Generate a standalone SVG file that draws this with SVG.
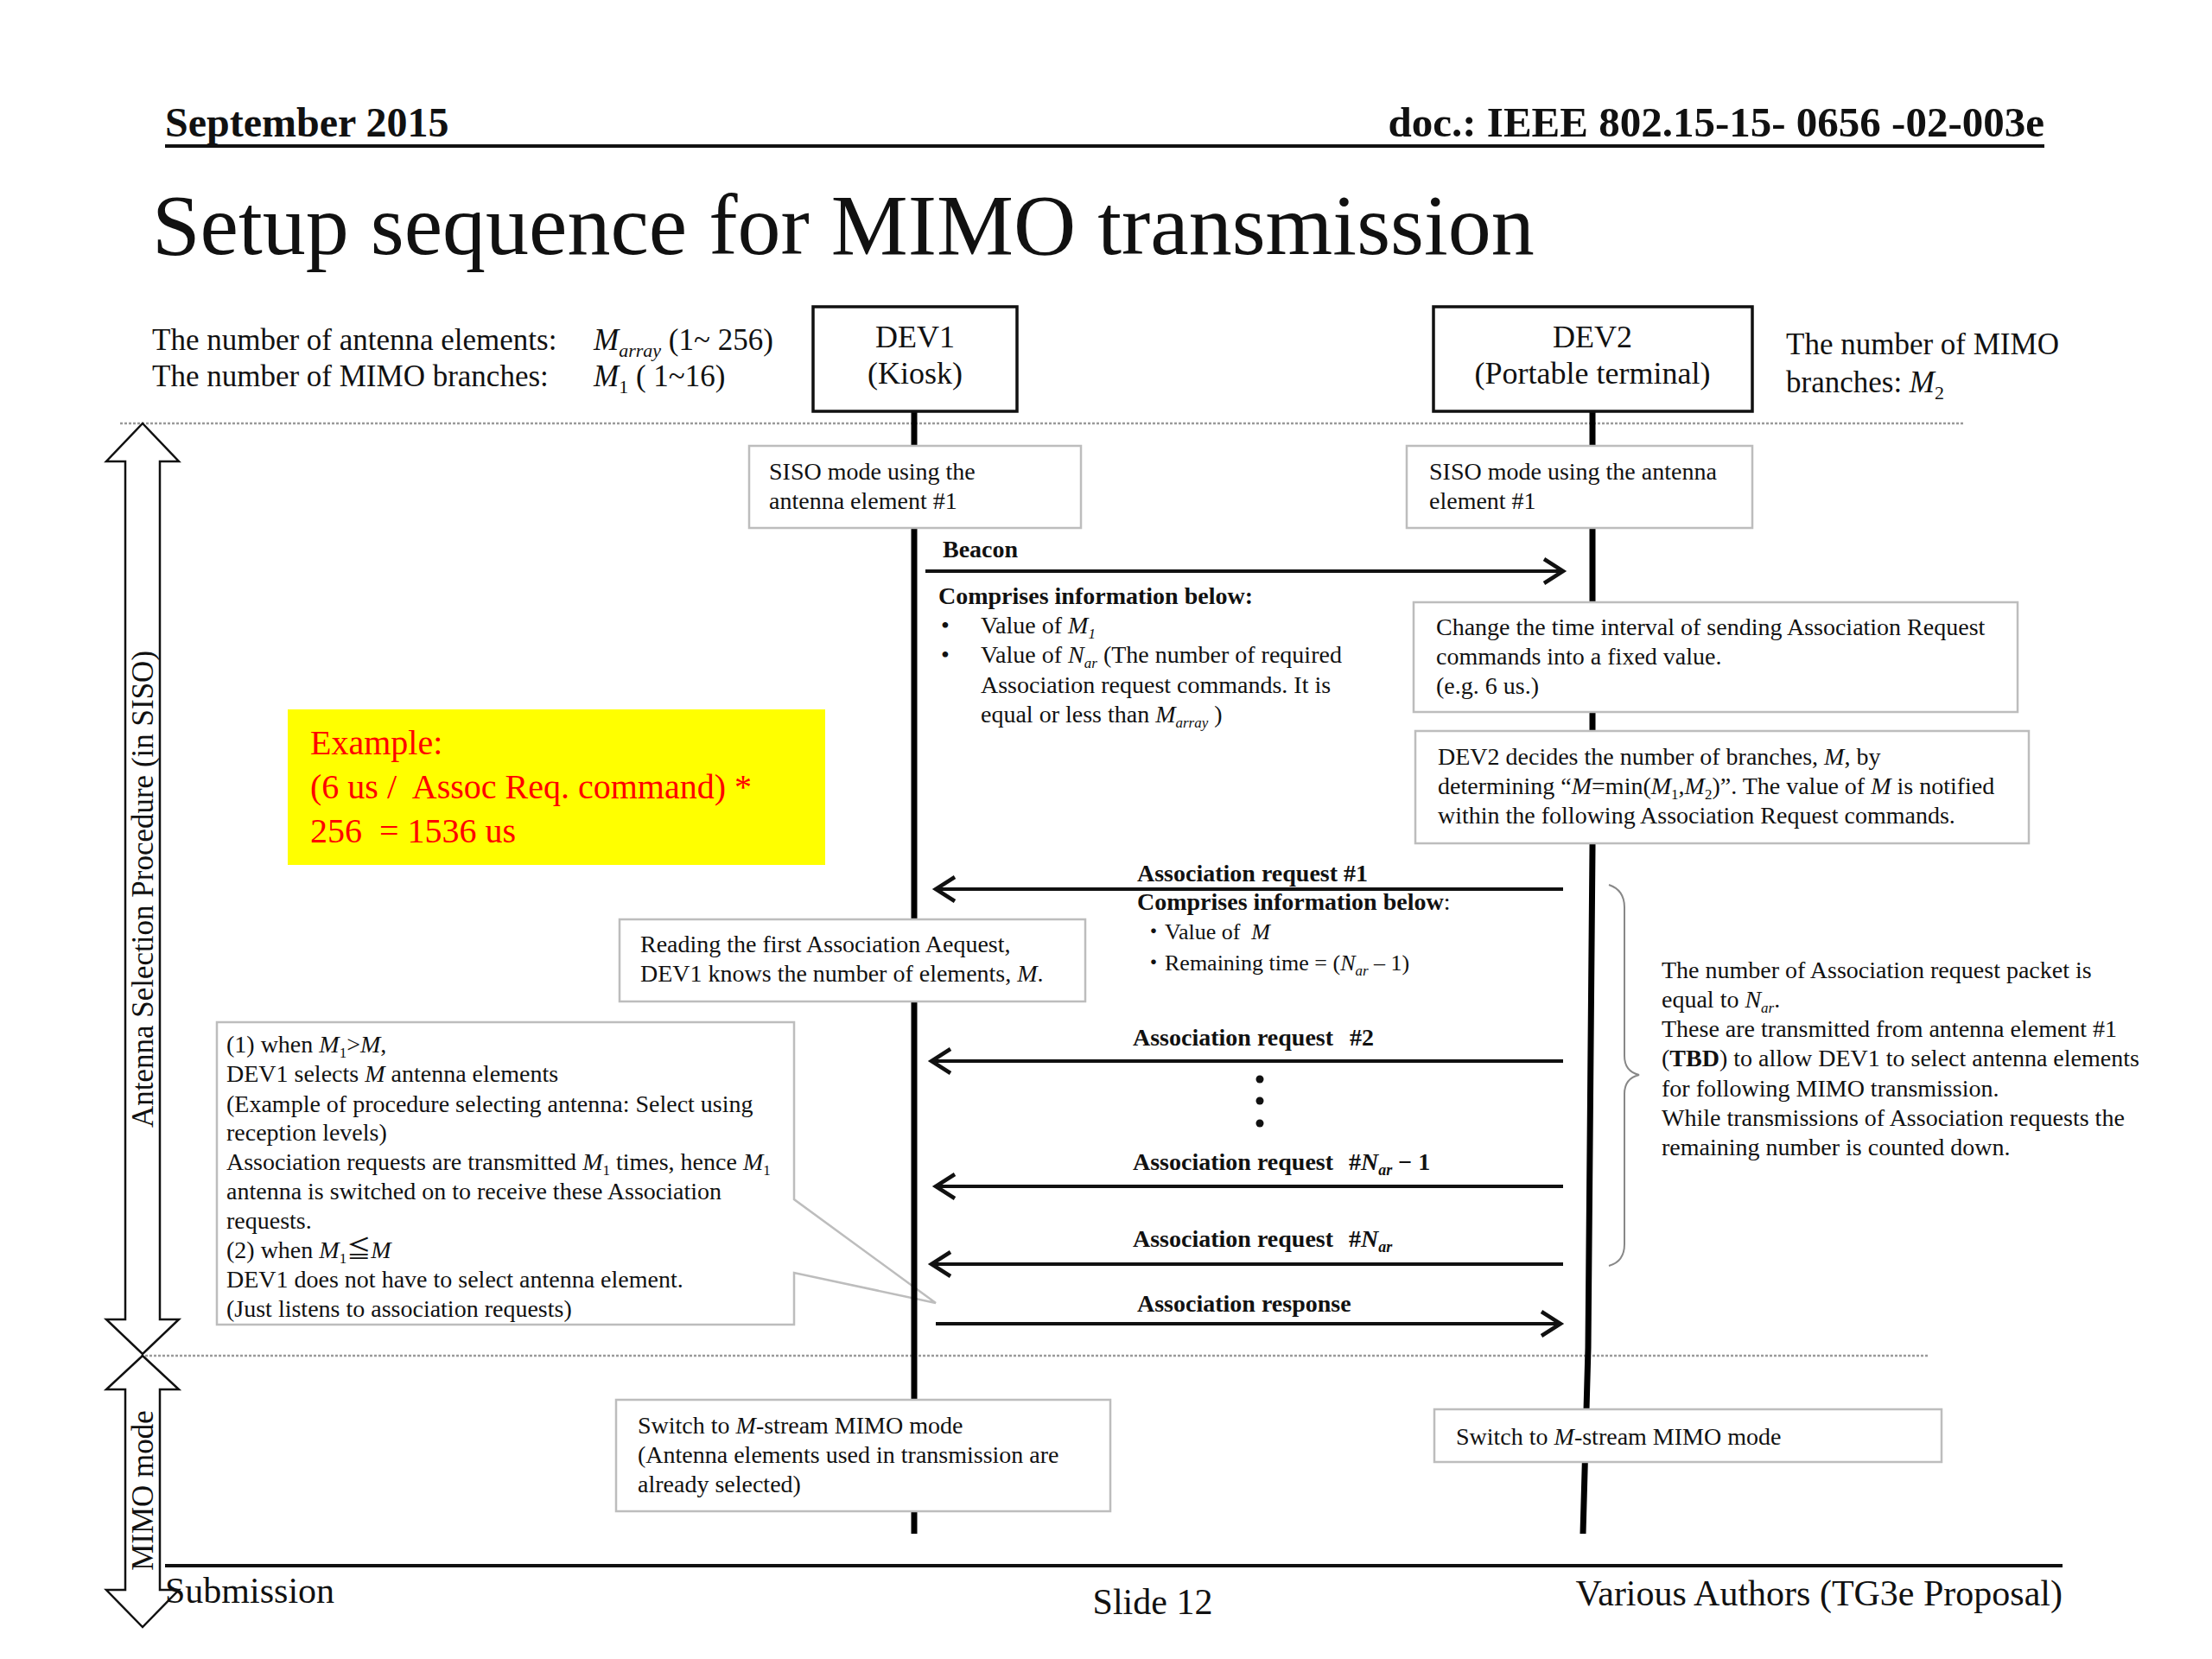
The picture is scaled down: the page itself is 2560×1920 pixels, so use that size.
<svg xmlns="http://www.w3.org/2000/svg" width="2560" height="1920" viewBox="0 0 2560 1920">
<style>
text{font-family:'Liberation Serif','Times New Roman','Noto Sans CJK JP',serif;fill:#111}
.b{font-weight:bold}
.i{font-style:italic}
.box{fill:#fff;stroke:#bdbdbd;stroke-width:2.5}
.dev{fill:#fff;stroke:#111;stroke-width:3.5}
.life{stroke:#000;stroke-width:7;fill:none}
.msg{stroke:#111;stroke-width:4;fill:none}
.sep{stroke:#9a9a9a;stroke-width:2.5;stroke-dasharray:3 2}
.s27{font-size:28px}
.s28{font-size:28px}
.s35{font-size:35px}
.pre{white-space:pre}
.blk{fill:#fff;stroke:#111;stroke-width:2.5}
</style>
<defs>
<marker id="arr" markerUnits="userSpaceOnUse" markerWidth="34" markerHeight="36" refX="26" refY="18" orient="auto">
<path d="M4,4 L26,18 L4,32" fill="none" stroke="#111" stroke-width="4.5"/>
</marker>
</defs>
<rect width="2560" height="1920" fill="#fff"/>

<g id="header">
<text x="191" y="158" font-size="48" class="b">September 2015</text>
<text x="2366" y="158" font-size="49" class="b" text-anchor="end">doc.: IEEE 802.15-15- 0656 -02-003e</text>
<line x1="191" y1="169" x2="2366" y2="169" stroke="#111" stroke-width="4"/>
<text x="176" y="294" font-size="100">Setup sequence for MIMO transmission</text>
</g>

<g id="info-dev1">
<text x="176" y="405" class="s35">The number of antenna elements:</text>
<text x="687" y="405" class="s35"><tspan class="i">M</tspan><tspan class="i" font-size="22" dy="8">array</tspan><tspan dy="-8"> (1~ 256)</tspan></text>
<text x="176" y="447" class="s35">The number of MIMO branches:</text>
<text x="687" y="447" class="s35 pre"><tspan class="i">M</tspan><tspan font-size="22" dy="8">1</tspan><tspan dy="-8"> ( 1~16)</tspan></text>
</g>

<g id="info-dev2">
<text x="2067" y="410" class="s35">The number of MIMO</text>
<text x="2067" y="454" class="s35">branches: <tspan class="i">M</tspan><tspan font-size="22" dy="8">2</tspan></text>
</g>

<g id="separators">
<line class="sep" x1="139" y1="490" x2="2274" y2="490"/>
<line class="sep" x1="163" y1="1569" x2="2232" y2="1569"/>
</g>

<g id="phase-arrows">
<polygon class="blk" points="165,490 207,534 185,534 185,1527 207,1527 165,1567 123,1527 145,1527 145,534 123,534"/>
<polygon class="blk" points="165,1569 207,1608 185,1608 185,1840 207,1840 165,1883 123,1840 145,1840 145,1608 123,1608"/>
<text transform="translate(177,1029) rotate(-90)" text-anchor="middle" class="s35">Antenna Selection Procedure (in SISO)</text>
<text transform="translate(177,1725) rotate(-90)" text-anchor="middle" class="s35">MIMO mode</text>
</g>

<g id="dev1-callout">
<path class="box" d="M251,1183 H919 V1388 L1083,1508 L919,1473 V1533 H251 Z"/>
<text x="262" y="1218" class="s27">(1) when <tspan class="i">M</tspan><tspan font-size="17" dy="6">1</tspan><tspan dy="-6">&gt;</tspan><tspan class="i">M</tspan>,</text>
<text x="262" y="1252" class="s27">DEV1 selects <tspan class="i">M</tspan> antenna elements</text>
<text x="262" y="1287" class="s27">(Example of procedure selecting antenna: Select using</text>
<text x="262" y="1320" class="s27">reception levels)</text>
<text x="262" y="1354" class="s27">Association requests are transmitted <tspan class="i">M</tspan><tspan font-size="17" dy="6">1</tspan><tspan dy="-6"> times, hence </tspan><tspan class="i">M</tspan><tspan font-size="17" dy="6">1</tspan></text>
<text x="262" y="1388" class="s27">antenna is switched on to receive these Association</text>
<text x="262" y="1422" class="s27">requests.</text>
<text x="262" y="1456" class="s27">(2) when <tspan class="i">M</tspan><tspan font-size="17" dy="6">1</tspan><tspan dy="-6">≦</tspan><tspan class="i">M</tspan></text>
<text x="262" y="1490" class="s27">DEV1 does not have to select antenna element.</text>
<text x="262" y="1524" class="s27">(Just listens to association requests)</text>
</g>

<g id="connectors">
<line class="life" x1="1058" y1="476" x2="1058" y2="1775"/>
<path class="life" d="M1843,476 L1843,980 L1838,1560 L1832,1775"/>
<line class="msg" x1="1071" y1="661" x2="1809" y2="661" marker-end="url(#arr)"/>
<line class="msg" x1="1809" y1="1029" x2="1083" y2="1029" marker-end="url(#arr)"/>
<line class="msg" x1="1809" y1="1228" x2="1078" y2="1228" marker-end="url(#arr)"/>
<line class="msg" x1="1809" y1="1373" x2="1083" y2="1373" marker-end="url(#arr)"/>
<line class="msg" x1="1809" y1="1463" x2="1078" y2="1463" marker-end="url(#arr)"/>
<line class="msg" x1="1083" y1="1532" x2="1806" y2="1532" marker-end="url(#arr)"/>
<path d="M1862,1024 Q1880,1030 1880,1050 V1222 Q1880,1240 1897,1244 Q1880,1248 1880,1266 V1440 Q1880,1460 1862,1465" fill="none" stroke="#888" stroke-width="2"/>
<circle cx="1458" cy="1249" r="4.5" fill="#111"/>
<circle cx="1458" cy="1274" r="4.5" fill="#111"/>
<circle cx="1458" cy="1300" r="4.5" fill="#111"/>
</g>

<g id="dev1">
<rect class="dev" x="941" y="355" width="236" height="121"/>
<text x="1059" y="402" font-size="36" text-anchor="middle">DEV1</text>
<text x="1059" y="444" font-size="36" text-anchor="middle">(Kiosk)</text>
</g>

<g id="dev2">
<rect class="dev" x="1659" y="355" width="369" height="121"/>
<text x="1843" y="402" font-size="36" text-anchor="middle">DEV2</text>
<text x="1843" y="444" font-size="36" text-anchor="middle">(Portable terminal)</text>
</g>

<g id="dev1-siso">
<rect class="box" x="867" y="516" width="384" height="95"/>
<text x="890" y="555" class="s27">SISO mode using the</text>
<text x="890" y="589" class="s27">antenna element #1</text>
</g>

<g id="dev2-siso">
<rect class="box" x="1628" y="516" width="400" height="95"/>
<text x="1654" y="555" class="s27">SISO mode using the antenna</text>
<text x="1654" y="589" class="s27">element #1</text>
</g>

<g id="beacon-label">
<text x="1091" y="645" class="s28 b">Beacon</text>
<text x="1086" y="699" class="s27 b">Comprises information below:</text>
<text x="1089" y="733" class="s27">•</text>
<text x="1135" y="733" class="s27">Value of <tspan class="i">M</tspan><tspan class="i" font-size="17" dy="6">1</tspan></text>
<text x="1089" y="767" class="s27">•</text>
<text x="1135" y="767" class="s27">Value of <tspan class="i">N</tspan><tspan class="i" font-size="17" dy="6">ar</tspan><tspan dy="-6"> (The number of required</tspan></text>
<text x="1135" y="802" class="s27">Association request commands. It is</text>
<text x="1135" y="836" class="s27">equal or less than <tspan class="i">M</tspan><tspan class="i" font-size="17" dy="6">array</tspan><tspan dy="-6"> )</tspan></text>
</g>

<g id="dev2-interval">
<rect class="box" x="1636" y="697" width="699" height="127"/>
<text x="1662" y="735" class="s27">Change the time interval of sending Association Request</text>
<text x="1662" y="769" class="s27">commands into a fixed value.</text>
<text x="1662" y="803" class="s27">(e.g. 6 us.)</text>
</g>

<g id="dev2-decide">
<rect class="box" x="1638" y="846" width="710" height="130"/>
<text x="1664" y="885" class="s27">DEV2 decides the number of branches, <tspan class="i">M</tspan>, by</text>
<text x="1664" y="919" class="s27">determining “<tspan class="i">M</tspan>=min(<tspan class="i">M</tspan><tspan font-size="17" dy="6">1</tspan><tspan dy="-6">,</tspan><tspan class="i">M</tspan><tspan font-size="17" dy="6">2</tspan><tspan dy="-6">)”. The value of </tspan><tspan class="i">M</tspan> is notified</text>
<text x="1664" y="953" class="s27">within the following Association Request commands.</text>
</g>

<g id="example">
<rect x="333" y="821" width="622" height="180" fill="#ffff00"/>
<text x="359" y="873" font-size="40" style="fill:#ff0000">Example:</text>
<text x="359" y="924" font-size="40" class="pre" style="fill:#ff0000">(6 us /  Assoc Req. command) *</text>
<text x="359" y="975" font-size="40" class="pre" style="fill:#ff0000">256  = 1536 us</text>
</g>

<g id="assoc-req-1-label">
<text x="1316" y="1020" class="s28 b">Association request #1</text>
<text x="1316" y="1053" class="s27 b">Comprises information below<tspan font-weight="normal">:</tspan></text>
<text x="1322" y="1087" font-size="26" class="pre">・Value of  <tspan class="i">M</tspan></text>
<text x="1322" y="1123" font-size="26">・Remaining time = (<tspan class="i">N</tspan><tspan class="i" font-size="17" dy="6">ar</tspan><tspan dy="-6"> – 1)</tspan></text>
</g>

<g id="dev1-reading">
<rect class="box" x="717" y="1064" width="539" height="95"/>
<text x="741" y="1102" class="s27">Reading the first Association Aequest,</text>
<text x="741" y="1136" class="s27">DEV1 knows the number of elements, <tspan class="i">M</tspan>.</text>
</g>

<g id="assoc-labels">
<text x="1311" y="1210" class="s28 b">Association request</text>
<text x="1562" y="1210" class="s28 b">#2</text>
<text x="1311" y="1354" class="s28 b">Association request</text>
<text x="1561" y="1354" class="s28 b">#<tspan class="i">N</tspan><tspan class="i" font-size="18" dy="6">ar</tspan><tspan dy="-6"> − 1</tspan></text>
<text x="1311" y="1443" class="s28 b">Association request</text>
<text x="1561" y="1443" class="s28 b">#<tspan class="i">N</tspan><tspan class="i" font-size="18" dy="6">ar</tspan></text>
<text x="1316" y="1518" class="s28 b">Association response</text>
</g>

<g id="brace-note">
<text x="1923" y="1132" class="s27">The number of Association request packet is</text>
<text x="1923" y="1166" class="s27">equal to <tspan class="i">N</tspan><tspan class="i" font-size="17" dy="6">ar</tspan><tspan dy="-6">.</tspan></text>
<text x="1923" y="1200" class="s27">These are transmitted from antenna element #1</text>
<text x="1923" y="1234" class="s27">(<tspan class="b">TBD</tspan>) to allow DEV1 to select antenna elements</text>
<text x="1923" y="1269" class="s27">for following MIMO transmission.</text>
<text x="1923" y="1303" class="s27">While transmissions of Association requests the</text>
<text x="1923" y="1337" class="s27">remaining number is counted down.</text>
</g>

<g id="dev1-mimo">
<rect class="box" x="713" y="1620" width="572" height="129"/>
<text x="738" y="1659" class="s27">Switch to <tspan class="i">M</tspan>-stream MIMO mode</text>
<text x="738" y="1693" class="s27">(Antenna elements used in transmission are</text>
<text x="738" y="1727" class="s27">already selected)</text>
</g>

<g id="dev2-mimo">
<rect class="box" x="1660" y="1631" width="587" height="61"/>
<text x="1685" y="1672" class="s27">Switch to <tspan class="i">M</tspan>-stream MIMO mode</text>
</g>

<g id="footer">
<line x1="191" y1="1812" x2="2387" y2="1812" stroke="#111" stroke-width="4"/>
<text x="191" y="1855" font-size="42">Submission</text>
<text x="1334" y="1868" font-size="42" text-anchor="middle">Slide 12</text>
<text x="2387" y="1858" font-size="42" text-anchor="end">Various Authors (TG3e Proposal)</text>
</g>
</svg>
